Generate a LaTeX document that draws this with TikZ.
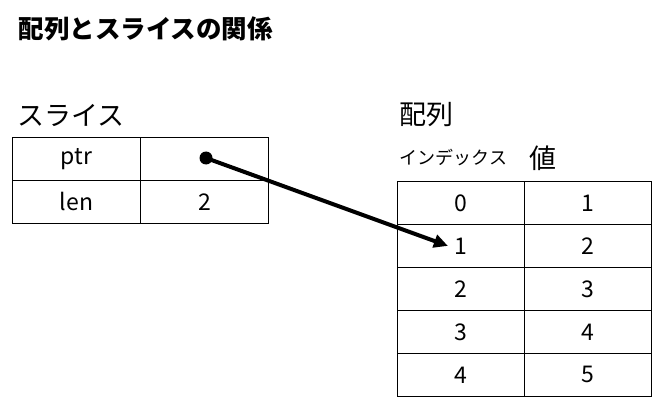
\documentclass[tikz,border=0pt]{standalone}
\usepackage{fontspec}
\setmainfont{Noto Sans CJK JP}
\usetikzlibrary{arrows.meta}
\begin{document}
\begin{tikzpicture}[x=1pt,y=-1pt,
  cell/.style={draw,line width=0.8pt,minimum width=128pt,minimum height=43pt,inner sep=0pt,font=\fontsize{23}{23}\selectfont,anchor=north west},
  acell/.style={cell,minimum width=127pt}]
\useasboundingbox (0,0) rectangle (668,414);
\node[anchor=west,font=\bfseries\fontsize{25.5}{25.5}\selectfont] (title) at (15,29) {配列とスライスの関係};
\node[anchor=west,font=\fontsize{27}{27}\selectfont] (sl) at (14,115) {スライス};
\node[cell] (ptr) at (12,137) {ptr};
\node[cell] (ptrv) at (140,137) {};
\node[cell] (len) at (12,180) {len};
\node[cell] (lenv) at (140,180) {2};
\node[anchor=west,font=\fontsize{27}{27}\selectfont] (arr) at (396,115) {配列};
\node[anchor=west,font=\fontsize{18}{18}\selectfont] (idx) at (396,158) {インデックス};
\node[anchor=west,font=\fontsize{27}{27}\selectfont] (val) at (526,158) {値};
\foreach \i/\v [count=\r from 0] in {0/1,1/2,2/3,3/4,4/5}{
  \node[acell] (i\i) at (397,181+\r*43) {\i};
  \node[acell] (v\i) at (524,181+\r*43) {\v};
}
\coordinate (dot) at (206,158);
\fill (dot) circle (6.5pt);
\draw[line width=4pt,-{Triangle[length=14pt,width=13pt]}] (dot) -- ([xshift=-13pt]i1.center);
\end{tikzpicture}
\end{document}
